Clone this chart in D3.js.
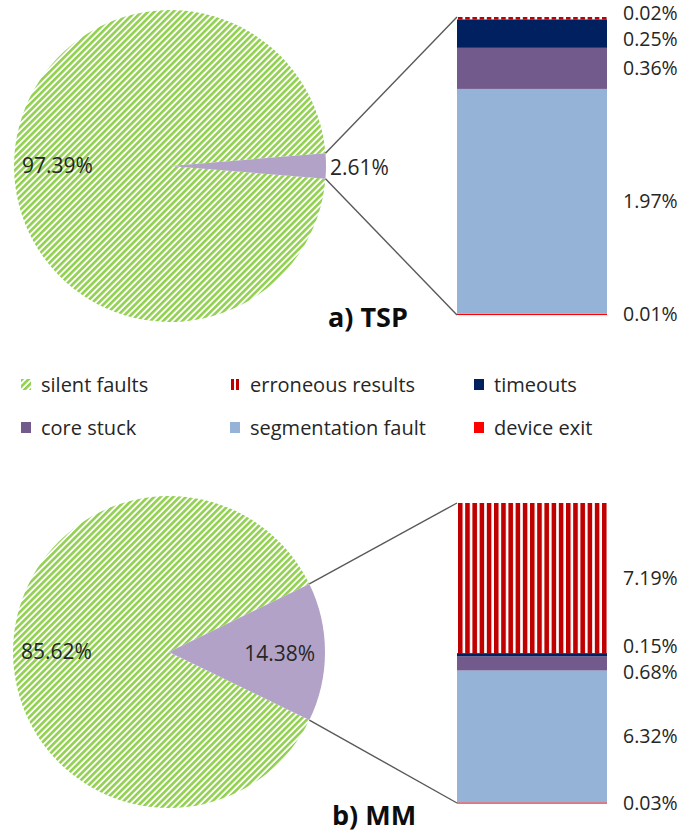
<!DOCTYPE html>
<html>
<head>
<meta charset="utf-8">
<script src="https://cdn.jsdelivr.net/npm/d3@7"></script>
<style>
  body { margin: 0; background: #fff; }
  text { font-family: "Open Sans", sans-serif; }
</style>
</head>
<body>
<script>
// pie shares (silent faults vs. everything else)
const pieNames = ["silent faults", "faults"];
const tspPie = [97.39, 2.61];
const mmPie = [85.62, 14.38];

// breakdown of the small slice, bottom to top
const barNames = ["device exit", "segmentation fault", "core stuck", "timeouts", "erroneous results"];
const tspBar = [0.01, 1.97, 0.36, 0.25, 0.02];
const mmBar = [0.03, 6.32, 0.68, 0.15, 7.19];

const legendNames = ["silent faults", "erroneous results", "timeouts", "core stuck", "segmentation fault", "device exit"];
const titles = ["a) TSP", "b) MM"];

const width = 684, height = 832;

const fills = {
  "silent faults": "url(#hatchGreen)",
  "faults": "#b3a2c7",
  "erroneous results": "url(#stripeRed)",
  "timeouts": "#002060",
  "core stuck": "#725a8c",
  "segmentation fault": "#95b3d7",
  "device exit": "#ff0000"
};

const svg = d3.select('body').append('svg')
    .attr('width', width)
    .attr('height', height);

const defs = svg.append('defs');

// green diagonal hatch
const hg = defs.append('pattern')
    .attr('id', 'hatchGreen')
    .attr('patternUnits', 'userSpaceOnUse')
    .attr('width', 4.5).attr('height', 4.5)
    .attr('patternTransform', 'rotate(45)');
hg.append('rect').attr('width', 4.5).attr('height', 4.5).attr('fill', '#fff');
hg.append('rect').attr('width', 2.6).attr('height', 4.5).attr('fill', '#92d050');

// red vertical stripes
const sr = defs.append('pattern')
    .attr('id', 'stripeRed')
    .attr('patternUnits', 'userSpaceOnUse')
    .attr('x', 458)
    .attr('width', 7.2).attr('height', 10);
sr.append('rect').attr('width', 7.2).attr('height', 10).attr('fill', '#fff');
sr.append('rect').attr('width', 4.6).attr('height', 10).attr('fill', '#c00000');

const r = 156;
const bar = { x0: 457, x1: 607 };

function drawPanel(opt) {
  const g = svg.append('g');
  const share = opt.pie[1] / d3.sum(opt.pie);
  // centre the small slice on 3 o'clock
  const start = Math.PI / 2 - 2 * Math.PI + Math.PI * share;
  const pie = d3.pie().sort(null).startAngle(start).endAngle(start + 2 * Math.PI);
  const arcs = pie(opt.pie);
  const arc = d3.arc().innerRadius(0).outerRadius(r);

  const pg = g.append('g').attr('transform', `translate(${opt.cx},${opt.cy})`);
  pg.selectAll('path').data(arcs).join('path')
      .attr('d', arc)
      .attr('fill', (d, i) => fills[pieNames[i]]);

  // stacked bar
  const total = d3.sum(opt.bar);
  const y = d3.scaleLinear().domain([0, total]).range([opt.bottom, opt.top]);
  const cum = d3.cumsum(opt.bar);
  const segs = opt.bar.map((v, i) => ({ name: barNames[i], v, y0: cum[i] - v, y1: cum[i] }));

  g.selectAll('rect.seg').data(segs).join('rect')
      .attr('class', 'seg')
      .attr('x', bar.x0)
      .attr('width', bar.x1 - bar.x0)
      .attr('y', d => y(d.y1))
      .attr('height', d => Math.max(y(d.y0) - y(d.y1), 1.2))
      .attr('fill', d => fills[d.name]);

  // connector lines from the slice edge to the bar corners
  const small = arcs[1];
  const pt = a => [opt.cx + r * Math.sin(a), opt.cy - r * Math.cos(a)];
  const p0 = pt(small.startAngle), p1 = pt(small.endAngle);
  g.append('line')
      .attr('x1', p0[0]).attr('y1', p0[1])
      .attr('x2', bar.x0).attr('y2', y(total))
      .attr('stroke', '#595959').attr('stroke-width', 1.4);
  g.append('line')
      .attr('x1', p1[0]).attr('y1', p1[1])
      .attr('x2', bar.x0).attr('y2', y(0))
      .attr('stroke', '#595959').attr('stroke-width', 1.4);

  // pie labels
  const fmt = v => v.toFixed(2) + '%';
  g.append('text')
      .attr('x', opt.cx - r + 8).attr('y', opt.cy)
      .attr('dy', '0.35em')
      .attr('font-size', 21).attr('fill', '#262626')
      .text(fmt(opt.pie[0]));
  const smallInside = opt.smallInside;
  g.append('text')
      .attr('x', smallInside ? opt.cx + r * 0.71 : opt.cx + r + 4)
      .attr('y', opt.cy + 2)
      .attr('dy', '0.35em')
      .attr('text-anchor', smallInside ? 'middle' : 'start')
      .attr('font-size', 21).attr('fill', '#262626')
      .text(fmt(opt.pie[1]));

  // bar labels, pushed apart where they would overlap
  const labs = segs.map(d => ({ text: fmt(d.v), y: (y(d.y0) + y(d.y1)) / 2 }));
  const gap = 26, minY = 13;
  for (let k = 0; k < 80; k++) {
    for (let i = 0; i < labs.length - 1; i++) {
      const a = labs[i], b = labs[i + 1];
      const d = a.y - b.y;
      if (d < gap) {
        const m = (gap - d) / 2;
        a.y += m; b.y -= m;
      }
    }
    const last = labs[labs.length - 1];
    if (last.y < minY) last.y = minY;
  }
  g.selectAll('text.bl').data(labs).join('text')
      .attr('class', 'bl')
      .attr('x', 623).attr('y', d => d.y)
      .attr('dy', '0.35em')
      .attr('font-size', 19.5).attr('fill', '#262626')
      .text(d => d.text);

  g.append('text')
      .attr('x', opt.titleX).attr('y', opt.titleY)
      .attr('font-size', 27).attr('font-weight', 'bold').attr('fill', '#0d0d0d')
      .text(opt.title);
}

drawPanel({ cx: 170, cy: 166, top: 17, bottom: 315, pie: tspPie, bar: tspBar,
  title: titles[0], titleX: 328, titleY: 327, smallInside: false });
drawPanel({ cx: 169, cy: 652, top: 503, bottom: 803, pie: mmPie, bar: mmBar,
  title: titles[1], titleX: 332, titleY: 825, smallInside: true });

// legend, two rows of three
const legX = [21, 230, 474];
const legY = [385, 428];
const leg = svg.append('g').selectAll('g').data(legendNames).join('g')
    .attr('transform', (d, i) => `translate(${legX[i % 3]},${legY[Math.floor(i / 3)]})`);
leg.append('rect')
    .attr('x', 0).attr('y', -6)
    .attr('width', 10).attr('height', 11)
    .attr('fill', d => d === 'erroneous results' ? 'none' : fills[d]);
leg.filter(d => d === 'erroneous results').each(function() {
  const s = d3.select(this);
  [1, 6].forEach(x => s.append('rect').attr('x', x).attr('y', -6).attr('width', 3).attr('height', 11).attr('fill', '#c00000'));
});
leg.append('text')
    .attr('x', 20).attr('y', 0)
    .attr('dy', '0.35em')
    .attr('font-size', 20).attr('fill', '#262626')
    .text(d => d);
</script>
</body>
</html>
